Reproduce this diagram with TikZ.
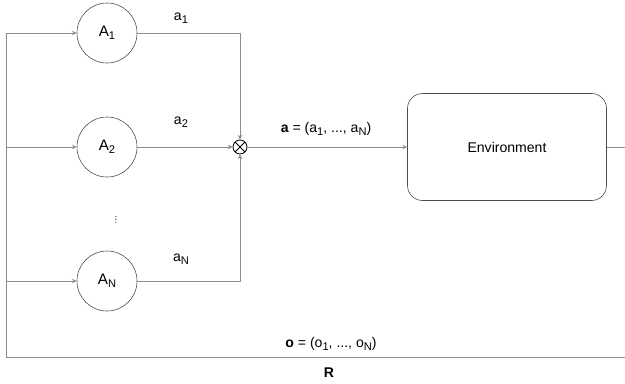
\documentclass[tikz,border=0pt]{standalone}
\usepackage{fontspec}
\setmainfont{Liberation Sans}
\newfontfamily\symfont{DejaVu Sans}
\usepackage{tikz}
\usetikzlibrary{shapes, arrows, positioning}

\newcommand{\lowsub}[1]{\raisebox{-0.4ex}{\fontsize{9.5}{10}\selectfont #1}}

\begin{document}
\begin{tikzpicture}[
        x=0.03cm, y=-0.03cm,
        font=\fontsize{12}{14}\selectfont,
        agent/.style={
            circle, draw=black!70, line width=0.5pt, minimum size=1.8cm, inner sep=0pt,
            font=\fontsize{13}{15}\selectfont
        },
        env/.style={
            rectangle, draw=black!70, line width=0.5pt, rounded corners=0.45cm,
            minimum width=5.97cm, minimum height=3.21cm, align=center
        },
        mixer/.style={circle, draw=black, line width=0.7pt, minimum size=0.42cm, inner sep=0pt,
            path picture={
                \draw[black, line width=0.7pt]
                    (path picture bounding box.north west) -- (path picture bounding box.south east)
                    (path picture bounding box.north east) -- (path picture bounding box.south west);
            }
        },
        wire/.style={draw=black!45, line width=0.8pt},
        arrow/.style={->, >=stealth, draw=black!45, line width=0.8pt}
    ]
        \useasboundingbox (0,0) rectangle (625,383);

        % Agents
        \node[agent] (A1) at (107,33) {A\lowsub{1}};
        \node[agent] (A2) at (107,147) {A\lowsub{2}};
        \node[agent] (AN) at (107,281) {A\lowsub{N}};
        \node (dots) at (116,220) {\symfont\fontsize{7}{8}\selectfont ⋮};

        % Combiner and environment
        \node[mixer] (mix) at (240,147) {};
        \node[env] (envt) at (507,147) {Environment};

        % Feedback points
        \coordinate (l1) at (6,33);
        \coordinate (l2) at (6,147);
        \coordinate (lN) at (6,281);
        \coordinate (lb) at (6,357);
        \coordinate (rb) at (625,357);
        \coordinate (rout) at (625,147);

        % Labels
        \node (la1) at (181,18) {a\lowsub{1}};
        \node (la2) at (181,122) {a\lowsub{2}};
        \node (laN) at (181,259) {a\lowsub{N}};
        \node (lact) at (326,129) {\textbf{a} = (a\lowsub{1}, ..., a\lowsub{N})};
        \node (lobs) at (331,344) {\textbf{o} = (o\lowsub{1}, ..., o\lowsub{N})};
        \node (lrew) at (329,373) {\textbf{R}};

        % Flow arrows
        \draw[arrow] (l1) -- (A1);
        \draw[arrow] (l2) -- (A2);
        \draw[arrow] (lN) -- (AN);
        \draw[arrow] (A1) -| (mix);
        \draw[arrow] (A2) -- (mix);
        \draw[arrow] (AN) -| (mix);
        \draw[arrow] (mix) -- (envt);

        % Feedback loop
        \draw[wire] (envt) -- (rout);
        \draw[wire] (l1) -- (lb) -- (rb);

    \end{tikzpicture}
\end{document}
